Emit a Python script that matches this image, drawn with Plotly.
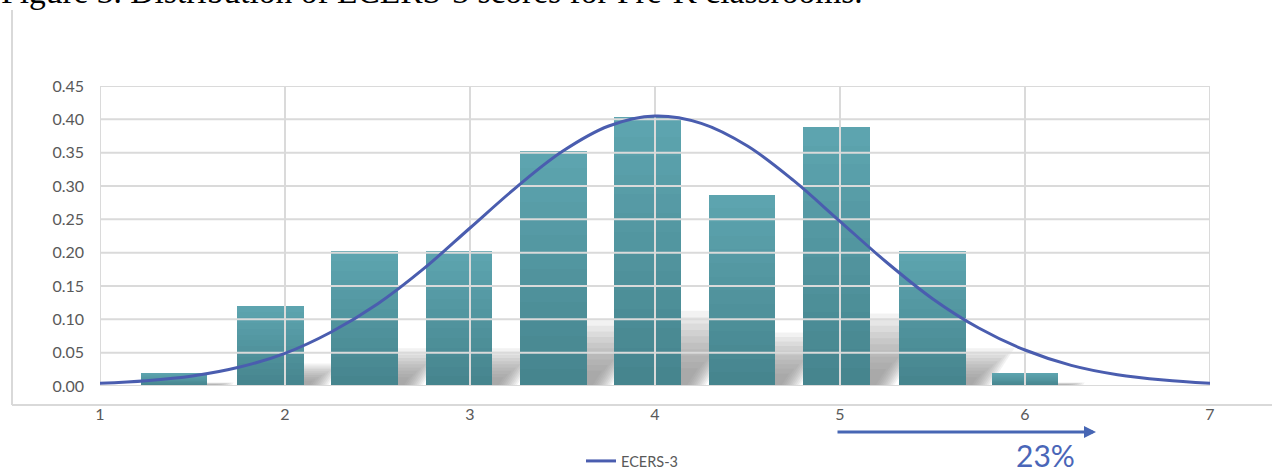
import plotly.graph_objects as go

# ---- data ---------------------------------------------------------------
bin_centers = [1.40, 1.92, 2.43, 2.94, 3.45, 3.96, 4.47, 4.98, 5.50, 6.00]
densities = [0.019, 0.120, 0.202, 0.202, 0.352, 0.403, 0.287, 0.388, 0.202, 0.019]

curve_x = [1.00, 1.25, 1.50, 1.75, 2.00, 2.25, 2.50, 2.75, 3.00, 3.25, 3.50, 3.75,
           4.00, 4.25, 4.50, 4.75, 5.00, 5.25, 5.50, 5.75, 6.00, 6.25, 6.50, 6.75, 7.00]
curve_y = [0.004, 0.008, 0.015, 0.028, 0.049, 0.081, 0.123, 0.176, 0.237, 0.298, 0.352, 0.390,
           0.405, 0.394, 0.360, 0.308, 0.247, 0.186, 0.131, 0.087, 0.054, 0.031, 0.017, 0.009, 0.004]

x_ticks = [1, 2, 3, 4, 5, 6, 7]
y_ticks = [0.00, 0.05, 0.10, 0.15, 0.20, 0.25, 0.30, 0.35, 0.40, 0.45]
y_tick_labels = ["0.00", "0.05", "0.10", "0.15", "0.20", "0.25", "0.30", "0.35", "0.40", "0.45"]

series_name = "ECERS-3"
share_label = "23%"
title_text = "Figure 3. Distribution of ECERS-3 scores for Pre-K classrooms."

# ---- page geometry ------------------------------------------------------
W, H = 1272, 472
L, R, T, B = 100, 62, 86, 86
PW, PH = W - L - R, H - T - B
X_RANGE = [1, 7]
Y_RANGE = [0, 0.45]


def paper_x(px):
    return (px - L) / PW


def paper_y(py):
    return 1 - (py - T) / PH


BAR_W = 0.361
TEAL_TOP = (93, 164, 175)
TEAL_BOTTOM = (70, 133, 142)
GRID = "#dadada"
CURVE = "#4A5DAF"
TEXT_GREY = "#595959"

fig = go.Figure()

# soft slanted shadows behind the bars
units_per_px_x = (X_RANGE[1] - X_RANGE[0]) / PW
px_per_unit_y = PH / (Y_RANGE[1] - Y_RANGE[0])
shapes = []
for c, h in zip(bin_centers, densities):
    xl, xr = c - BAR_W / 2, c + BAR_W / 2
    hs_full = 0.28 * h
    n_layers = 10
    for j in range(n_layers):
        f = 1 - j * 0.085
        hs = hs_full * f
        base_off = 24 * units_per_px_x * f
        dx = 0.65 * hs * px_per_unit_y * units_per_px_x
        path = (f"M{xl:.4f},0 L{xr + base_off:.4f},0 "
                f"L{xr + base_off + dx:.4f},{hs:.4f} L{xl + dx:.4f},{hs:.4f} Z")
        shapes.append(dict(type="path", path=path, xref="x", yref="y",
                           fillcolor="#808080", opacity=0.105,
                           line=dict(width=0), layer="below"))

# bars: overlaid layers give a light-to-dark vertical gradient
N = 14
for k in range(N):
    t = k / (N - 1)
    col = tuple(round(a + (b - a) * t) for a, b in zip(TEAL_TOP, TEAL_BOTTOM))
    fig.add_trace(go.Bar(
        x=bin_centers,
        y=[v * (N - k) / N for v in densities],
        width=BAR_W,
        marker=dict(color=f"rgb{col}", line=dict(width=0)),
        opacity=1,
        showlegend=False,
        hoverinfo="skip",
    ))

# gridlines drawn over the bars
gx, gy = [], []
for yv in y_ticks:
    gx += [X_RANGE[0], X_RANGE[1], None]
    gy += [yv, yv, None]
for xv in x_ticks:
    gx += [xv, xv, None]
    gy += [Y_RANGE[0], Y_RANGE[1], None]
fig.add_trace(go.Scatter(x=gx, y=gy, mode="lines",
                         line=dict(color=GRID, width=2),
                         showlegend=False, hoverinfo="skip"))

# fitted distribution curve
fig.add_trace(go.Scatter(
    x=curve_x, y=curve_y, mode="lines", name=series_name,
    line=dict(color=CURVE, width=3, shape="spline", smoothing=1),
    hoverinfo="skip",
))

# outer chart frame (left and bottom edges)
shapes.append(dict(type="line", xref="paper", yref="paper",
                   x0=paper_x(12), x1=paper_x(12), y0=paper_y(10), y1=paper_y(405),
                   line=dict(color="#d9d9d9", width=2)))
shapes.append(dict(type="line", xref="paper", yref="paper",
                   x0=paper_x(12), x1=paper_x(W + 5), y0=paper_y(405), y1=paper_y(405),
                   line=dict(color="#d9d9d9", width=2)))

annotations = [
    dict(text=title_text, xref="paper", yref="paper",
         x=paper_x(-1), y=paper_y(-8), xanchor="left", yanchor="middle",
         showarrow=False,
         font=dict(family="Liberation Serif", size=33.5, color="#000000")),
    # arrow marking the share of classrooms above 5
    dict(text="", xref="paper", yref="paper",
         x=paper_x(1096), y=paper_y(432),
         axref="pixel", ayref="pixel", ax=-(1096 - 836), ay=0,
         showarrow=True, arrowhead=2, arrowsize=0.8, arrowwidth=3,
         arrowcolor="#4766B4"),
    dict(text=share_label, xref="paper", yref="paper",
         x=paper_x(1045), y=paper_y(455), xanchor="center", yanchor="middle",
         showarrow=False,
         font=dict(family="Lato", size=30, color="#4A66B8")),
]

fig.update_layout(
    width=W, height=H,
    margin=dict(l=L, r=R, t=T, b=B, pad=0, autoexpand=False),
    paper_bgcolor="white", plot_bgcolor="white",
    barmode="overlay", bargap=0,
    shapes=shapes,
    annotations=annotations,
    font=dict(family="Lato", color=TEXT_GREY),
    showlegend=True,
    legend=dict(orientation="h", x=paper_x(632), xanchor="center",
                y=paper_y(477), yanchor="bottom",
                bgcolor="rgba(0,0,0,0)", borderwidth=0,
                font=dict(family="Lato", size=14.5, color=TEXT_GREY)),
    xaxis=dict(range=X_RANGE, tickvals=x_ticks, ticktext=[str(v) for v in x_ticks],
               showgrid=False, zeroline=False, showline=False, ticks="",
               ticklabelstandoff=17,
               tickfont=dict(family="Lato", size=16, color=TEXT_GREY)),
    yaxis=dict(range=Y_RANGE, tickvals=y_ticks, ticktext=y_tick_labels,
               showgrid=False, zeroline=False, showline=False, ticks="",
               ticklabelstandoff=15,
               tickfont=dict(family="Lato", size=16, color=TEXT_GREY)),
)

fig.write_html("out.html")
